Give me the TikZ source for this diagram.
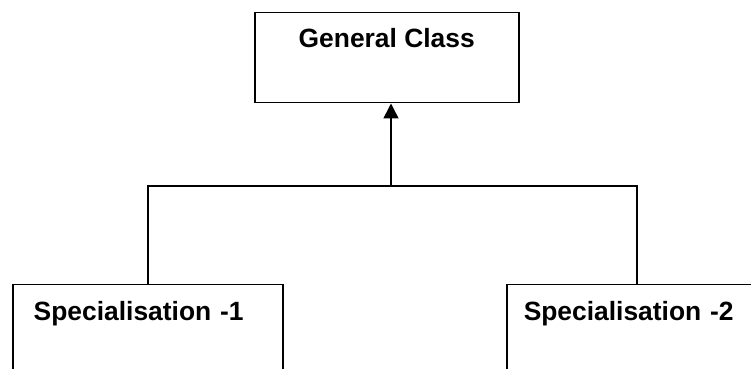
\documentclass[tikz,border=0pt]{standalone}
\usepackage{fontspec}
\setmainfont{Liberation Sans}
\usetikzlibrary{arrows.meta}

\begin{document}
\begin{tikzpicture}[x=0.5pt,y=-0.5pt, line width=0.75pt,
  classbox/.style={draw, anchor=north west, inner ysep=0pt,
    font=\fontsize{13.2pt}{16pt}\selectfont\bfseries},
  inherit/.style={-{Triangle[width=7.5pt,length=7.5pt]}}]

\def\xmax{751}
  \def\ymax{369}

\clip (0,0) rectangle (\xmax,\ymax);

% general class on top
\node[classbox, minimum width=132pt, text height=17.5pt, text depth=27.5pt]
  (general) at (254,12) {General Class};

% specialisations, cut off at the bottom
\node[classbox, text width=114pt, inner xsep=10.5pt, align=left,
  text height=18pt, text depth=45pt] (spec1) at (12,284) {Specialisation -1};
\node[classbox, text width=113pt, inner xsep=8.5pt, align=left,
  text height=18pt, text depth=45pt] (spec2) at (506,284) {Specialisation -2};

% joint of the two branches
\coordinate (hub) at (391,186);

\draw (spec1.north) |- (hub) -| (spec2.north);
\draw[inherit] (hub) -- (hub |- general.south);
\end{tikzpicture}
\end{document}
